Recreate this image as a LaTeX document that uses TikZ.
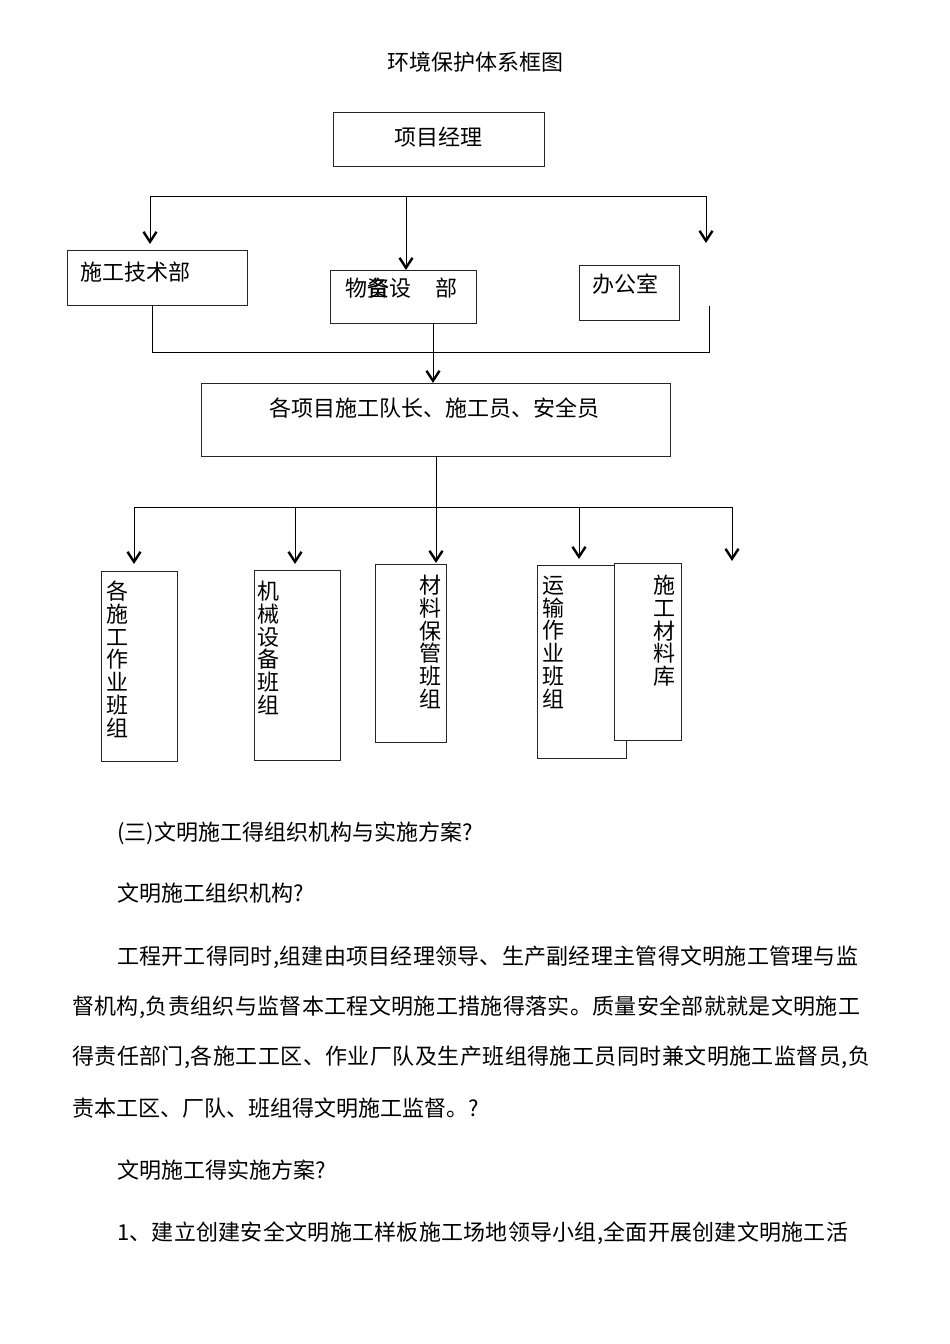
\documentclass[tikz,border=0pt]{standalone}
\usepackage{fontspec}
\setmainfont{Noto Sans CJK SC}
\usetikzlibrary{arrows.meta}
\makeatletter
\def\spreadtext#1{\sprd@a#1\relax}
\def\sprd@a#1{#1\sprd@b}
\def\sprd@b#1{\ifx\relax#1\else\hfill#1\expandafter\sprd@b\fi}
\makeatother
\tikzset{
  box/.style={draw=black!85, line width=1pt, inner sep=0pt, fill=white, anchor=north west},
  con/.style={line width=0.9pt, draw=black},
  arr/.style={con, -{Straight Barb[length=10pt,width=13pt,line width=2.4pt]}},
  lbl/.style={font=\fontsize{22}{22.7}\selectfont, inner sep=0pt},
  vlbl/.style={lbl, align=center, anchor=north},
  txt/.style={font=\fontsize{22}{24}\selectfont, inner sep=0pt, anchor=west},
}
\begin{document}
\begin{tikzpicture}[x=1pt,y=-1pt]
\useasboundingbox[fill=white] (0,0) rectangle (950,1344);

% title
\node[lbl] (title) at (475,62) {环境保护体系框图};

% project manager
\node[box, minimum width=211, minimum height=54] (pm) at (333,112) {};
\node[lbl] (pmt) at (438,137) {项目经理};

% top distribution line
\coordinate (hl) at (150,196);
\coordinate (hm) at (406,196);
\coordinate (hr) at (706,196);
\coordinate (tipL) at (150,244);
\coordinate (tipR) at (706,243);
\draw[con] (hl) -- (hr);
\draw[arr] (hl) -- (tipL);
\draw[arr] (hr) -- (tipR);

% departments
\node[box, minimum width=180, minimum height=55] (tech) at (67,250) {};
\node[lbl, anchor=west] (techt) at (80,272) {施工技术部};
\node[box, minimum width=146, minimum height=53] (mat) at (330,270) {};
\node[lbl, anchor=west] (matt) at (345,288) {物\rlap{资}备设\hspace{1.1em}部};
\node[box, minimum width=100, minimum height=55] (off) at (579,265) {};
\node[lbl, anchor=west] (offt) at (592,284) {办公室};
\draw[arr] (hm) -- (hm |- mat.north);

% collecting line
\coordinate (b1) at (152,352);
\coordinate (b2) at (709,352);
\coordinate (rtop) at (709,306);
\draw[con] (tech.south -| b1) -- (b1) -- (b2) -- (rtop);
\coordinate (mx) at (433,352);

% team leaders
\node[box, minimum width=469, minimum height=73] (team) at (201,383) {};
\node[lbl] (teamt) at (434,408) {各项目施工队长、施工员、安全员};
\draw[arr] (mat.south -| mx) -- (team.north -| mx);

% lower distribution
\coordinate (l1) at (134,507);
\coordinate (l2) at (295,507);
\coordinate (l3) at (436,507);
\coordinate (l4) at (579,507);
\coordinate (l5) at (732,507);
\draw[con] (team.south -| l3) -- (l3);
\draw[con] (l1) -- (l5);
\coordinate (t1) at (134,564);
\coordinate (t2) at (295,564);
\coordinate (t3) at (436,563);
\coordinate (t4) at (579,559);
\coordinate (t5) at (732,561);
\draw[arr] (l1) -- (t1);
\draw[arr] (l2) -- (t2);
\draw[arr] (l3) -- (t3);
\draw[arr] (l4) -- (t4);
\draw[arr] (l5) -- (t5);

% groups
\node[box, minimum width=76, minimum height=190] (g1) at (101,571) {};
\node[vlbl] (g1t) at (117,581) {各\\施\\工\\作\\业\\班\\组};
\node[box, minimum width=86, minimum height=190] (g2) at (254,570) {};
\node[vlbl] (g2t) at (268,581) {机\\械\\设\\备\\班\\组};
\node[box, minimum width=71, minimum height=178] (g3) at (375,564) {};
\node[vlbl] (g3t) at (430,575) {材\\料\\保\\管\\班\\组};
\node[box, minimum width=89, minimum height=193] (g4) at (537,565) {};
\node[vlbl] (g4t) at (553,576) {运\\输\\作\\业\\班\\组};
\node[box, minimum width=67, minimum height=177] (g5) at (614,563) {};
\node[vlbl] (g5t) at (664,575) {施\\工\\材\\料\\库};

% body text
\node[txt] (p1) at (117,833) {(三)文明施工得组织机构与实施方案?};
\node[txt] (p2) at (117,893) {文明施工组织机构?};
\node[txt] (p3) at (117,957) {\hbox to 741pt{\spreadtext{工程开工得同时,组建由项目经理领导、生产副经理主管得文明施工管理与监}}};
\node[txt] (p4) at (72,1007) {\hbox to 788pt{\spreadtext{督机构,负责组织与监督本工程文明施工措施得落实。质量安全部就就是文明施工}}};
\node[txt] (p5) at (72,1057) {\hbox to 798pt{\spreadtext{得责任部门,各施工工区、作业厂队及生产班组得施工员同时兼文明施工监督员,负}}};
\node[txt] (p6) at (72,1108) {责本工区、厂队、班组得文明施工监督。?};
\node[txt] (p7) at (117,1170) {文明施工得实施方案?};
\node[txt] (p8) at (117,1233) {\hbox to 731pt{\spreadtext{1、建立创建安全文明施工样板施工场地领导小组,全面开展创建文明施工活}}};
\end{tikzpicture}
\end{document}
